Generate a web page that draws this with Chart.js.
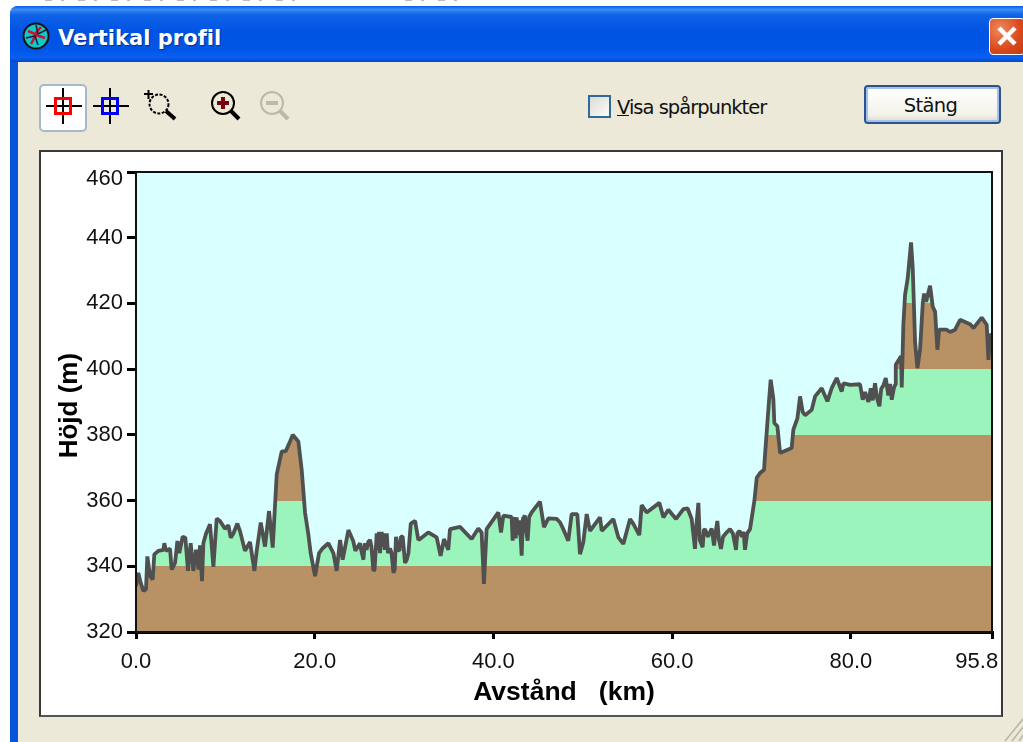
<!DOCTYPE html>
<html lang="sv"><head><meta charset="utf-8"><title>Vertikal profil</title>
<script src="https://cdn.jsdelivr.net/npm/chart.js@4"></script>
<style>
html,body{margin:0;padding:0;background:#fff;width:1023px;height:742px;overflow:hidden}
.abs{position:absolute}
#win{left:10px;top:6px;width:1013px;height:736px;background:#0855DD;border-top-left-radius:8px}
#bar{left:10px;top:6px;width:1013px;height:56px;border-top-left-radius:8px;
 background:linear-gradient(#0A5AE0 0,#3A8DF5 6%,#0F62E6 16%,#0054E3 45%,#0056E8 80%,#0A5FF0 92%,#0048C8 100%)}
#client{left:18px;top:62px;width:1005px;height:680px;background:#ECE9D8}
#ttl{left:58px;top:26px;font:bold 21px "DejaVu Sans",sans-serif;color:#fff;text-shadow:1px 1px 1px #00309a;letter-spacing:.02px;white-space:nowrap}
#close{left:989px;top:18px;width:36px;height:37px;border:1px solid #fff;border-radius:4px;box-sizing:border-box;background:radial-gradient(circle at 30% 30%,#EE8A5E,#D9481C 60%,#C03A12)}
#sel{left:39px;top:84px;width:48px;height:48px;box-sizing:border-box;background:#fff;border:2px solid #A4B8CE;border-radius:5px}
#chk{left:588px;top:95px;width:23px;height:23px;box-sizing:border-box;border:2px solid #2F6A9A;background:linear-gradient(135deg,#DCDCD6,#FBFBF8)}
#lab{left:617px;top:96px;font:19.5px "DejaVu Sans",sans-serif;color:#111;letter-spacing:-1px;white-space:nowrap}
#btn{left:864px;top:85px;width:137px;height:39px;box-sizing:border-box;border:2px solid #2A5490;border-radius:4px;background:linear-gradient(#FFFFFF,#F3F2EA 80%,#DCD8C8);text-align:center;font:19.5px "DejaVu Sans",sans-serif;color:#111;line-height:38px;letter-spacing:-.6px;padding-right:4px;box-shadow:inset 0 0 0 2px #A8C0E8}
#panel{left:39px;top:150px;width:964px;height:567px;box-sizing:border-box;background:#fff;border:2px solid #3a3a3a;border-bottom-color:#555}
#wrap{left:41px;top:152px;width:960px;height:563px}
svg{position:absolute;overflow:visible}
</style></head><body>
<div class="abs" id="win"></div><div class="abs" id="bar"></div><div class="abs" id="client"></div>
<div class="abs" id="sel"></div>
<svg style="left:0;top:0" width="1023" height="742">
 <path d="M45 0.500H300M405 0.500H470" stroke="#bbb" stroke-width="1" stroke-dasharray="7 9 3 14"/>
 <circle cx="36" cy="36" r="12.500" fill="#12C8C8" stroke="#111" stroke-width="2"/>
 <path d="M28 31l7 3 6-7M31 44l5-9 9 3" stroke="#D01030" stroke-width="2.500" fill="none"/>
 <path d="M26 38l9-2 3 9M36 25l2 9 8-4" stroke="#123" stroke-width="1.500" fill="none"/>
 <g stroke="#000" stroke-width="2" fill="none">
  <path d="M63 88v10M63 114v10M46 106h9M71 106h11"/><rect x="55.500" y="98.500" width="15" height="15" stroke="#F00" stroke-width="3"/><path d="M63 100v12M57 106h12"/>
 </g>
 <g stroke="#000" stroke-width="2" fill="none">
  <path d="M110 88v10M110 114v10M93 106h9M118 106h11"/><rect x="102.500" y="98.500" width="15" height="15" stroke="#00F" stroke-width="3"/><path d="M110 100v12M104 106h12"/>
 </g>
 <g fill="none" stroke="#000" stroke-width="2">
  <path d="M144 94h9M148.500 90v9"/><circle cx="159" cy="104" r="9.500" stroke-dasharray="3 1.500"/><path d="M166 111l9 8" stroke-width="4"/>
  <circle cx="223" cy="103" r="11"/><path d="M231 111l8 8" stroke-width="4"/><path d="M217 103h12M223 97v12" stroke="#7A0010" stroke-width="4"/>
 </g>
 <g fill="none" stroke="#BDB9A8" stroke-width="2">
  <circle cx="272" cy="103" r="11"/><path d="M280 111l8 8" stroke-width="4"/><path d="M266 103h12" stroke-width="4"/>
 </g>
 <g stroke="#B8B4A4" stroke-width="1.500"><path d="M1005 741l18-22M1012 741l11-14M1019 741l4-6"/></g>
</svg>
<div class="abs" id="ttl">Vertikal profil</div>
<div class="abs" id="close"><svg style="left:6px;top:6px" width="22" height="22"><path d="M3 3l16 16M19 3L3 19" stroke="#fff" stroke-width="4.500"/></svg></div>
<div class="abs" id="chk"></div>
<div class="abs" id="lab"><u>V</u>isa spårpunkter</div>
<div class="abs" id="btn">Stäng</div>
<div class="abs" id="panel"></div>
<div class="abs" id="wrap"><canvas id="c" width="960" height="563"></canvas></div>
<script>
const profileKm = [0,0.26,0.52,0.82,1.12,1.27,1.57,1.87,2.05,2.5,3.06,3.17,3.36,3.81,3.99,4.37,4.63,4.85,5.22,5.52,5.82,6.12,6.42,6.72,7.01,7.16,7.39,7.54,7.84,8.28,8.66,9.03,9.4,9.96,10.34,10.6,10.9,11.34,11.64,12.2,12.76,13.25,13.51,13.96,14.44,14.89,15.3,15.75,16.31,16.75,17.24,17.54,18.17,18.54,18.92,19.29,19.55,20.04,20.49,20.9,21.53,22.09,22.46,22.84,23.13,23.77,24.31,24.55,
25.07,25.2,25.45,25.6,25.8,26.01,26.2,26.35,26.57,26.7,26.94,27.05,27.2,27.31,27.5,27.6,27.69,27.85,28.06,28.2,28.43,28.6,28.81,28.95,29.1,29.3,29.48,29.65,29.85,30.11,30.3,30.49,30.75,31.23,31.6,
31.78,32.71,33.65,34.09,34.47,34.95,35.14,36.26,37.56,38.31,38.68,38.94,39.24,40.55,40.85,
41.11,42.04,42.15,42.35,42.5,42.6,42.79,42.95,43.16,43.3,43.53,43.7,43.83,44.0,44.28,
45.21,45.66,46.15,47.08,47.45,47.82,48.38,48.76,49.39,49.69,50.06,50.44,50.81,51.93,52.12,53.42,53.98,54.54,55.29,55.66,56.33,56.59,57.15,58.57,59.02,59.58,60.44,61.26,61.74,
62.19,62.56,62.7,62.94,63.1,63.42,63.55,63.68,64.0,64.43,64.69,64.85,65.06,65.25,65.47,65.7,66.0,66.48,66.8,67.15,67.3,67.53,67.8,68.0,68.16,68.4,68.72,
69.21,69.47,69.84,70.29,70.4,70.59,70.77,71.03,71.33,71.44,71.78,72.08,73.38,73.57,74.02,74.32,74.61,74.88,75.62,76,76.74,77.38,77.86,78.42,78.98,79.17,79.91,
81.03,81.33,81.6,81.97,82.23,82.45,82.71,82.95,83.2,83.4,83.64,83.91,84.2,84.4,84.58,84.8,84.95,
85.03,85.62,85.7,85.88,86.07,86.37,86.74,86.93,87.19,87.45,87.75,88.05,88.2,88.42,88.87,89.17,89.43,89.69,89.88,90.73,91.11,91.67,92.23,93.35,93.72,94.65,95.21,95.4,95.58,95.8];
const profileHeight = [334,338,335,332.5,333,343,337,336,343.6,344.7,345,347,344.7,345.4,339,341,347.7,344,349,348.7,338.6,347,338.6,345,339,346.4,335.5,347,350,352.8,339.8,354.5,353.8,351.4,352.5,348.7,350,353,350.7,344.7,347.4,338.6,344.7,353.3,346,356.8,345.7,368,375,375,378,380,378,369.5,356.3,349.7,344,337,344,345.5,347,344,338.6,348,342,351,347.7,344.7,
347,345,342,347,345,347.5,348,346,338.6,339,350,345,350.5,344,350.5,346,350,345,350,344,345.5,344,338,339,349,345,344.7,349,349,341,342,344,353,353.8,348,
348.3,350.3,348.8,343.2,348.3,345,351.3,352,348.3,351.5,350.3,334.6,351.3,356.4,350.3,
355.4,355,347.8,355,348.5,354.9,349.5,354,343.2,354.5,355.4,350,347.8,355,356.4,
359.7,351.9,354.6,354.4,353.4,351.3,347.8,355.9,355.9,343.7,347.3,355.9,350.8,354.9,350.8,354.4,348.8,346.8,354.4,352.9,349.5,358.6,356.4,359.3,354.9,357.2,354.4,357.4,357.6,
354.4,345.3,352,359.3,348,345.8,351,351.3,349,351.5,346.3,350,353.8,348,345.3,349,350,351.3,350,345,350,350.8,349,350.5,345,350,351.3,
360,366.9,368.4,369.4,374,381,387.6,396.8,391,383.6,382.6,374.5,376,381.6,385,391.7,387,386,387.6,391.7,394.2,390.2,394.2,397.3,393.2,395.7,395.2,
395.4,390.7,393,390,394.2,390.5,395.7,391,388.7,394,395,397.3,392,395.5,390.7,394,395.2,
401.3,403.9,394.4,413.5,422.6,427.7,438.6,430.7,408.4,400.3,405.9,420,423,420.5,425.4,419,417.5,405.9,412,412,411.3,412,415,413.7,412.5,415.7,413.5,402.8,410.4,410.4];
const xTicks = [0,20,40,60,80,95.8];
const yTicks = [320,340,360,380,400,420,440,460];
const xTitle = 'Avstånd   (km)';
const yTitle = 'Höjd (m) ';
const bandEdges = [320,340,360,380,400,420,440];
const bandColors = ['#B89264','#9BF4BC'];
const skyColor = '#DAFFFF';
const lineColor = '#505050';

function bandFill(ctx){
  const {chart} = ctx, y = chart.scales.y;
  if(!y || !chart.chartArea) return bandColors[0];
  const top = y.getPixelForValue(y.max), bot = y.getPixelForValue(y.min);
  const g = chart.ctx.createLinearGradient(0,bot,0,top);
  const f = v => (y.getPixelForValue(v)-bot)/(top-bot);
  bandEdges.forEach((e,i)=>{
    const c = bandColors[i%2], next = i+1<bandEdges.length ? bandEdges[i+1] : y.max;
    g.addColorStop(f(e),c); g.addColorStop(f(next),c);
  });
  return g;
}
const plotFrame = {
  id:'plotFrame',
  beforeDatasetsDraw(c){const a=c.chartArea,x=c.ctx;x.save();x.fillStyle=skyColor;x.fillRect(a.left,a.top,a.width,a.height);x.restore();},
  afterDatasetsDraw(c){const a=c.chartArea,x=c.ctx;x.save();x.strokeStyle='#111';x.lineWidth=2;x.strokeRect(a.left,a.top,a.width,a.height);x.restore();}
};
new Chart(document.getElementById('c'),{
  type:'line',
  plugins:[plotFrame],
  data:{datasets:[{
    data:profileKm.map((k,i)=>({x:k,y:profileHeight[i]})),
    borderColor:lineColor,borderWidth:3.8,borderJoinStyle:'bevel',pointRadius:0,tension:0,
    fill:'origin',backgroundColor:bandFill
  }]},
  options:{
    responsive:false,animation:false,
    layout:{padding:{top:20,right:9,left:0,bottom:0}},
    plugins:{legend:{display:false},tooltip:{enabled:false},title:{display:false}},
    scales:{
      x:{type:'linear',min:0,max:95.8,
        afterBuildTicks(s){s.ticks=xTicks.map(v=>({value:v}));},
        afterFit(s){s.height=83;s.paddingLeft=0;s.paddingRight=0;},
        border:{color:'#000',width:3},
        grid:{drawOnChartArea:false,color:'#000',lineWidth:3,tickLength:7},
        ticks:{autoSkip:false,maxRotation:0,color:'#111',padding:10,
          font:{family:'"Liberation Sans"',size:22},
          callback:v=>v===95.8?v.toFixed(1)+'     ':v.toFixed(1)},
        title:{display:true,text:xTitle,color:'#000',font:{family:'"Liberation Sans"',size:26.5,weight:'bold'},padding:{top:0,bottom:6}}
      },
      y:{type:'linear',min:320,max:460,
        afterBuildTicks(s){s.ticks=yTicks.map(v=>({value:v}));},
        afterFit(s){s.width=95;s.paddingTop=0;s.paddingBottom=0;},
        border:{color:'#000',width:3},
        grid:{drawOnChartArea:false,color:'#000',lineWidth:3,tickLength:9},
        ticks:{autoSkip:false,color:'#111',padding:4,
          font:ctx=>({family:'"Liberation Sans"',size:22,lineHeight:ctx.index===yTicks.length-1?0.64:1.2}),
          callback:v=>v===460?['',String(v)]:String(v)},
        title:{display:true,text:yTitle,color:'#000',font:{family:'"Liberation Sans"',size:26,weight:'bold'},padding:{top:13,bottom:0}}
      }
    }
  }
});
</script>
</body></html>
